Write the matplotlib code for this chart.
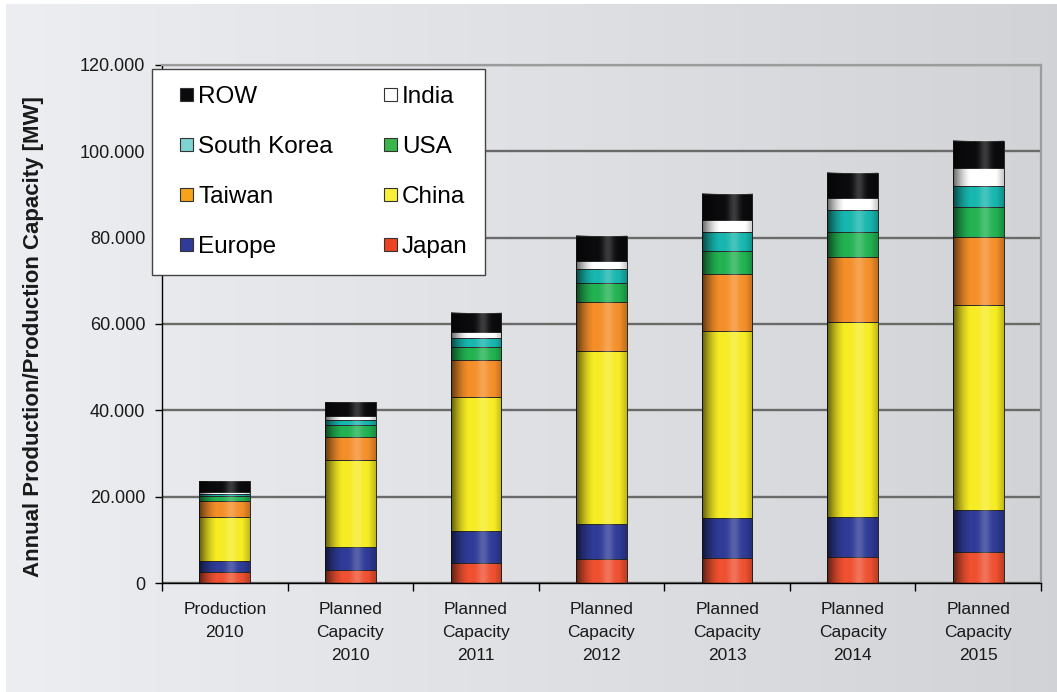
import numpy as np
import matplotlib
matplotlib.use('Agg')
import matplotlib.pyplot as plt
import matplotlib.patches as mpatches
from matplotlib.legend_handler import HandlerPatch
from matplotlib.ticker import FuncFormatter, FixedLocator

# Daten (MW), von unten nach oben gestapelt
categories = ['Production\n2010', 'Planned\nCapacity\n2010', 'Planned\nCapacity\n2011',
              'Planned\nCapacity\n2012', 'Planned\nCapacity\n2013', 'Planned\nCapacity\n2014',
              'Planned\nCapacity\n2015']
japan = [2500, 2900, 4700, 5500, 5900, 6100, 7100]
europe = [2600, 5500, 7400, 8200, 9100, 9300, 9700]
china = [10300, 20000, 31100, 40100, 43400, 45000, 47500]
taiwan = [3500, 5500, 8500, 11200, 13200, 15100, 15900]
usa = [1200, 2600, 3000, 4500, 5200, 5700, 6800]
south_korea = [600, 1300, 2000, 3300, 4500, 5200, 5000]
india = [300, 900, 1500, 1900, 2700, 2700, 4200]
row = [2600, 3200, 4400, 5700, 6200, 5900, 6200]

series = [('Japan', japan, '#ee5030'), ('Europe', europe, '#2f3b96'),
          ('China', china, '#f6ec23'), ('Taiwan', taiwan, '#f48e29'),
          ('USA', usa, '#22b252'), ('South Korea', south_korea, '#17b6ae'),
          ('India', india, '#ffffff'), ('ROW', row, '#0b0b0d')]
legend_colors = {'South Korea': '#7fd3d3', 'Taiwan': '#f7a21b', 'China': '#f7ef3a',
                 'USA': '#3ab54a', 'Japan': '#ee4224'}

W, H = 1057, 692
fig = plt.figure(figsize=(W / 100, H / 100), dpi=100, facecolor='white')

# Hintergrund mit Verlauf
bg = fig.add_axes([6 / W, 0, 1 - 6 / W, 1 - 4 / H], zorder=-10)
c0 = np.array([0.925, 0.933, 0.945])
c1 = np.array([0.820, 0.827, 0.839])
t = np.linspace(0, 1, 256)[None, :, None]
bg.imshow(c0 + (c1 - c0) * t, aspect='auto', extent=(0, 1, 0, 1))
bg.axis('off')

ax = fig.add_axes([162 / W, 1 - 583 / H, (1041 - 162) / W, (583 - 65) / H])
ax.patch.set_alpha(0)

x = np.arange(len(categories))
bw = 0.405
bottom = np.zeros(len(categories))
for name, vals, col in series:
    ax.bar(x, vals, bw, bottom=bottom, color=col, edgecolor='#2a2a2a', linewidth=0.7, zorder=2)
    bottom += np.array(vals)

# Zylinder-Schattierung auf den Balken
tt = np.linspace(0, 1, 120)
dark = np.where(tt < 0.35, 0.62 * (1 - tt / 0.35) ** 1.5, 0) + np.where(tt > 0.85, 0.22 * (tt - 0.85) / 0.15, 0)
light = 0.2 * np.exp(-((tt - 0.63) / 0.11) ** 2)
shade = np.zeros((1, len(tt), 4))
shade[0, :, :3] = np.where(light > dark, 1.0, 0.0)[:, None]
shade[0, :, 3] = np.maximum(dark, light)
for xi, top in zip(x, bottom):
    ax.imshow(shade, extent=(xi - bw / 2, xi + bw / 2, 0, top), aspect='auto',
              interpolation='bilinear', zorder=3)

ax.set_xlim(-0.5, len(categories) - 0.5)
ax.set_ylim(0, 120000)
ax.set_yticks(np.arange(0, 120001, 20000))
ax.yaxis.set_major_formatter(FuncFormatter(lambda v, p: '0' if v == 0 else f'{v:,.0f}'.replace(',', '.')))
ax.grid(axis='y', color='#6a6a6a', linewidth=1.7, zorder=1)
ax.set_axisbelow(True)

ax.set_xticks(x)
ax.set_xticklabels(categories, family='Liberation Sans', fontsize=12.5,
                   color='#1a1a1a', linespacing=1.65)
ax.xaxis.set_minor_locator(FixedLocator(np.arange(-0.5, len(categories), 1)))
ax.tick_params(axis='x', which='major', length=0, pad=14)
ax.tick_params(axis='x', which='minor', length=6, width=1, color='black', direction='out')
ax.tick_params(axis='y', length=5, width=1, direction='out', pad=7, labelsize=13, labelcolor='#1a1a1a')
for lab in ax.get_yticklabels():
    lab.set_family('Liberation Sans')

for s in ['left', 'bottom']:
    ax.spines[s].set_color('black')
    ax.spines[s].set_linewidth(1.0)
for s in ['top', 'right']:
    ax.spines[s].set_color('#9c9c9c')
    ax.spines[s].set_linewidth(1.6)

ax.set_ylabel('Annual Production/Production Capacity [MW]', family='Liberation Sans',
              fontsize=16, fontweight='bold', color='#1a1a1a')
ax.yaxis.set_label_coords((44 - 162) / (1041 - 162), 0.475)


# Legende: kleine Quadrate rechts im Handle-Feld
def square(legend, orig_handle, xdescent, ydescent, width, height, fontsize):
    s = 0.55 * fontsize
    return mpatches.Rectangle((-xdescent + width - s, -ydescent + (height - s) / 2), s, s)


order = ['ROW', 'South Korea', 'Taiwan', 'Europe', 'India', 'USA', 'China', 'Japan']
cols = {n: c for n, _, c in series}
handles = [mpatches.Patch(facecolor=legend_colors.get(n, cols[n]), edgecolor='#333333', linewidth=0.8)
           for n in order]
leg = ax.legend(handles, order, ncol=2, loc='upper left',
                bbox_to_anchor=(152 / W, 1 - 69 / H), bbox_transform=fig.transFigure,
                borderaxespad=0, prop={'family': 'Liberation Sans', 'size': 17.5},
                handlelength=1.0, handleheight=0.55, handletextpad=0.2,
                labelspacing=1.15, columnspacing=1.65, borderpad=0.7,
                fancybox=False, framealpha=1, edgecolor='#444444',
                handler_map={mpatches.Patch: HandlerPatch(patch_func=square)})
leg.get_frame().set_linewidth(1.0)
leg.set_zorder(5)

fig.savefig('out.png', dpi=100, facecolor=fig.get_facecolor())
